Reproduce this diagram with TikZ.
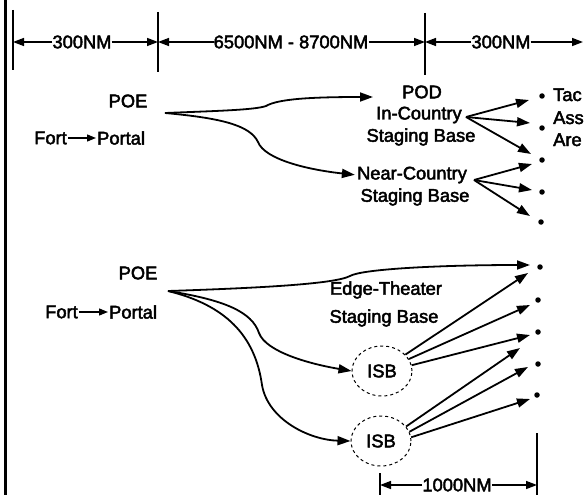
\documentclass[tikz,border=0pt]{standalone}
\usepackage{fontspec}
\setmainfont{Liberation Sans}
\newfontfamily\lblfont{Liberation Sans}[RawFeature={embolden=2.5}]
\usetikzlibrary{arrows.meta,shapes.geometric}
\begin{document}
\begin{tikzpicture}[x=1pt,y=-1pt,
  lbl/.style={font=\lblfont\fontsize{18.3}{21}\selectfont, inner sep=0pt, align=center},
  dim/.style={line width=1.5pt, -{Triangle[length=11pt,width=8pt]}},
  tickline/.style={line width=1.6pt},
  flow/.style={line width=1.8pt, -{Triangle[length=13pt,width=9pt]}},
  arr/.style={line width=1.8pt, -{Triangle[length=13pt,width=9pt]}},
  smallarr/.style={line width=1.4pt, -{Triangle[length=9pt,width=7pt]}, shorten <=1pt, shorten >=1pt},
  dotn/.style={circle, fill=black, inner sep=0pt, minimum size=5.5pt},
  isb/.style={ellipse, draw, dashed, line width=1pt, minimum width=60pt, minimum height=50pt, inner sep=0pt, font=\lblfont\fontsize{18.3}{21}\selectfont}
]
\useasboundingbox (0,0) rectangle (584,495);
\draw[line width=3pt] (5,0) -- (5,495);

% top dimension ticks
\coordinate (t1a) at (13,10);  \coordinate (t1b) at (13,70);
\coordinate (t2a) at (158,12); \coordinate (t2b) at (158,72);
\coordinate (t3a) at (425,13); \coordinate (t3b) at (425,75);
\draw[tickline] (t1a) -- (t1b);
\draw[tickline] (t2a) -- (t2b);
\draw[tickline] (t3a) -- (t3b);
\coordinate (d1) at (13,42); \coordinate (d2) at (158,42);
\coordinate (d3) at (425,42); \coordinate (d4) at (583,42);
\node[lbl] (n300a) at (82,42) {300NM};
\node[lbl] (n6500) at (291,42) {6500NM - 8700NM};
\node[lbl] (n300b) at (501,42) {300NM};
\draw[dim] (n300a.west) -- (d1);
\draw[dim] (n300a.east) -- (d2);
\draw[dim] (n6500.west) -- (d2);
\draw[dim] (n6500.east) -- (d3);
\draw[dim] (n300b.west) -- (d3);
\draw[dim] (n300b.east) -- (d4);

% upper group
\node[lbl] (poe1) at (128,101) {POE};
\node[lbl, anchor=east] (fort1) at (67,138) {Fort};
\node[lbl, anchor=west] (portal1) at (97,138) {Portal};
\draw[smallarr] (fort1.east) -- (portal1.west);
\coordinate (s1) at (165,113);
\node[lbl] (pod) at (422,92) {POD};
\node[lbl] (incountry) at (419,115) {In-Country};
\node[lbl] (stag1) at (421,137) {Staging Base};
\node[lbl] (near) at (412,175) {Near-Country};
\node[lbl] (stag2) at (415,197) {Staging Base};
\coordinate (podtip) at (373,97);
\draw[flow] (s1) .. controls (215,111) and (255,110) .. (266,106) .. controls (278,99) and (310,97) .. (podtip);
\draw[flow, shorten >=2pt] (s1) .. controls (220,118) and (250,125) .. (258,142) .. controls (265,160) and (310,170) .. (near.west);

\coordinate (c1) at (466,117);
\coordinate (c2) at (474,180);
\coordinate (a1) at (529,100); \coordinate (a2) at (530,123); \coordinate (a3) at (531,154);
\coordinate (b1) at (532,164); \coordinate (b2) at (532,190); \coordinate (b3) at (530,216);
\draw[arr] (c1) -- (a1);
\draw[arr] (c1) -- (a2);
\draw[arr] (c1) -- (a3);
\draw[arr] (c2) -- (b1);
\draw[arr] (c2) -- (b2);
\draw[arr] (c2) -- (b3);
\node[dotn] (u1) at (542,96) {};
\node[dotn] (u2) at (542,128) {};
\node[dotn] (u3) at (542,160) {};
\node[dotn] (u4) at (542,192) {};
\node[dotn] (u5) at (541,222) {};
\node[lbl, anchor=base west] (tac) at (553,101) {Tac};
\node[lbl, anchor=base west] (ass) at (553,124) {Ass};
\node[lbl, anchor=base west] (area) at (553,146) {Are};

% lower group
\node[lbl] (poe2) at (138,273) {POE};
\node[lbl, anchor=east] (fort2) at (78,312) {Fort};
\node[lbl, anchor=west] (portal2) at (109,312) {Portal};
\draw[smallarr] (fort2.east) -- (portal2.west);
\coordinate (s2) at (168,291);
\node[lbl] (edge) at (386,290) {Edge-Theater};
\node[lbl] (stag3) at (384,318) {Staging Base};
\node[isb] (isb1) at (382,371) {ISB};
\node[isb] (isb2) at (381,441) {ISB};
\coordinate (e1) at (530,265);
\draw[flow] (s2) .. controls (260,288) and (335,284) .. (350,276) .. controls (362,269) and (440,265) .. (e1);
\draw[flow] (s2) .. controls (225,300) and (252,312) .. (259,333) .. controls (266,352) and (310,364) .. (isb1.west);
\draw[flow] (s2) .. controls (225,305) and (255,335) .. (262,385) .. controls (268,420) and (310,440) .. (isb2.west);

\coordinate (f1) at (528,273); \coordinate (f2) at (530,305); \coordinate (f3) at (530,335);
\coordinate (g1) at (520,348); \coordinate (g2) at (528,367); \coordinate (g3) at (530,399);
\draw[arr] (isb1.35) -- (f1);
\draw[arr] (isb1.24) -- (f2);
\draw[arr] (isb1.11) -- (f3);
\draw[arr] (isb2.30) -- (g1);
\draw[arr] (isb2.18) -- (g2);
\draw[arr] (isb2.7) -- (g3);
\node[dotn] (l1) at (540,267) {};
\node[dotn] (l2) at (538,300) {};
\node[dotn] (l3) at (538,332) {};
\node[dotn] (l4) at (538,364) {};
\node[dotn] (l5) at (537,395) {};

% bottom dimension
\coordinate (bt1a) at (380,473); \coordinate (bt1b) at (380,495);
\coordinate (bt2a) at (537,433); \coordinate (bt2b) at (537,495);
\draw[tickline] (bt1a) -- (bt1b);
\draw[tickline] (bt2a) -- (bt2b);
\coordinate (bd1) at (380,485); \coordinate (bd2) at (537,485);
\node[lbl] (n1000) at (457,485) {1000NM};
\draw[dim] (n1000.west) -- (bd1);
\draw[dim] (n1000.east) -- (bd2);
\end{tikzpicture}
\end{document}
